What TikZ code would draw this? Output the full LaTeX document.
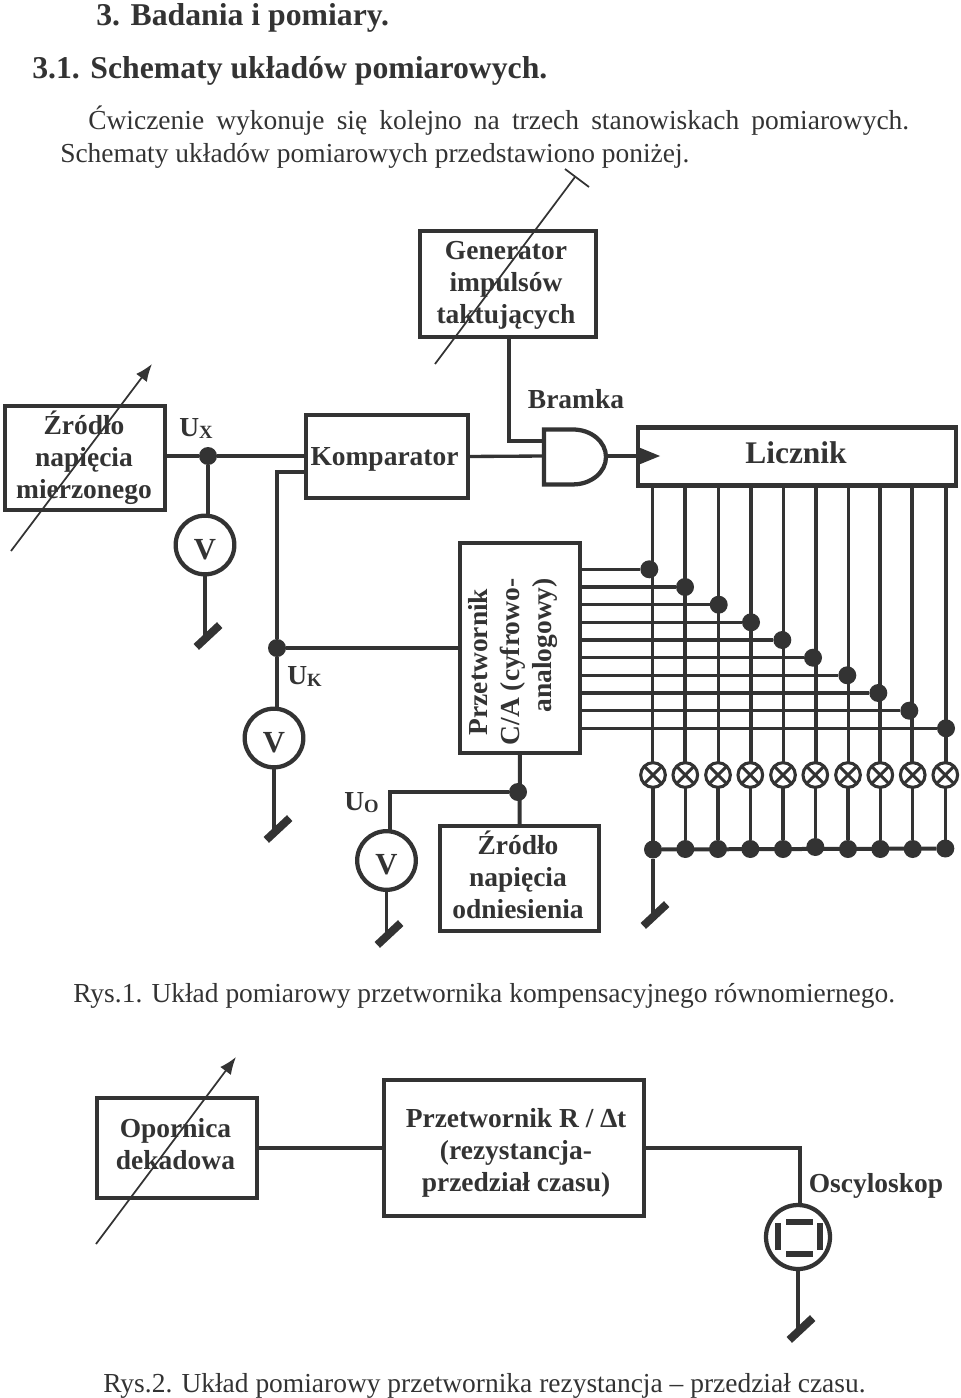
\documentclass[tikz,border=0pt]{standalone}
\usepackage{fontspec}
\setmainfont{Liberation Serif}
\usetikzlibrary{arrows.meta}
\definecolor{ink}{HTML}{333333}
\tikzset{%
	box/.style={draw=ink, rectangle, line width=3.2pt, inner sep=0mm, outer sep=0pt},
	wire/.style={draw=ink, line width=2.5pt},
	thin arrow/.style={draw=ink, line width=1.3pt, -{Latex[length=13pt,width=10pt]}},
	dot/.style={circle, fill=ink, minimum size=13.5pt, inner sep=0pt, outer sep=0pt},
	meter/.style={circle, draw=ink, line width=3.2pt, fill=white, minimum size=44pt, inner sep=0pt, outer sep=0pt,%
		font=\fontsize{23}{24}\selectfont\bfseries, text=ink},
	lamp/.style={circle, draw=ink, line width=2.3pt, fill=white, minimum size=18.5pt, inner sep=0pt, outer sep=0pt},
	gnd/.style={rectangle, fill=ink, minimum width=24pt, minimum height=6pt, inner sep=0pt, outer sep=0pt, rotate=43},
	plate/.style={rectangle, fill=ink, inner sep=0pt, outer sep=0pt},
	lbl/.style={text=ink, inner sep=0pt, font=\fontsize{20.6}{24}\selectfont\bfseries, align=center},
	txt/.style={text=ink, inner sep=0pt, anchor=base west, font=\fontsize{20.6}{24}\selectfont},
	head/.style={txt, font=\fontsize{23.8}{24}\selectfont\bfseries}
}
\newcommand{\sub}[1]{\raisebox{-0.2ex}{\fontsize{14}{14}\selectfont #1}}
\newcommand{\vlet}{\raisebox{-10.5pt}[0pt][0pt]{V}}
\begin{document}
\begin{tikzpicture}[x=0.75pt, y=-0.75pt]
	\useasboundingbox (0,0) rectangle (960,1398);

	% text
	\node[head] (head1) at (96,26) {3. Badania i pomiary.};
	\node[head] (head2) at (32,79) {3.1. Schematy układów pomiarowych.};
	\node[txt] (par1) at (88,130) {\spaceskip=9.1pt Ćwiczenie wykonuje się kolejno na trzech stanowiskach pomiarowych.};
	\node[txt] (par2) at (60,163) {Schematy układów pomiarowych przedstawiono poniżej.};
	\node[txt] (rys1) at (73,1002) {Rys.1. Układ pomiarowy przetwornika kompensacyjnego równomiernego.};
	\node[txt] (rys2) at (103,1392) {Rys.2. Układ pomiarowy przetwornika rezystancja – przedział czasu.};

	% boxes
	\node[box, minimum width=132pt, minimum height=79pt] (gen) at (508,284) {};
	\node[box, minimum width=120pt, minimum height=78pt] (zrodlo) at (85,458) {};
	\node[box, minimum width=121.5pt, minimum height=62pt] (komp) at (387,456.5) {};
	\node[box, minimum width=238.5pt, minimum height=43.5pt] (licz) at (797,456.5) {};
	\node[box, minimum width=90pt, minimum height=157.5pt] (conv) at (520,648) {};
	\node[box, minimum width=119pt, minimum height=79pt] (ref) at (519.5,878.5) {};
	\node[box, minimum width=120pt, minimum height=75pt] (opor) at (177,1148) {};
	\node[box, minimum width=195pt, minimum height=102pt] (rt) at (514,1148) {};

	% labels
	\node[lbl] (gentxt) at (506,285) {Generator\\impulsów\\taktujących};
	\node[lbl] (zrodlotxt) at (84,458) {Źródło\\napięcia\\mierzonego};
	\node[lbl] (komptxt) at (384.5,459) {Komparator};
	\node[lbl, font=\fontsize{23.6}{24}\selectfont\bfseries] (licztxt) at (796,453) {Licznik};
	\node[lbl, rotate=90] (convtxt) at (513,662) {Przetwornik\\C/A (cyfrowo-\\\hspace*{25pt}analogowy)};
	\node[lbl] (reftxt) at (518,875) {Źródło\\napięcia\\odniesienia};
	\node[lbl] (oportxt) at (175.5,1144) {Opornica\\dekadowa};
	\node[lbl] (rttxt) at (516,1153) {Przetwornik R / ∆t\\(rezystancja-\\przedział czasu)};
	\node[lbl] (bram) at (576,399) {Bramka};
	\node[lbl, anchor=base west] (ux) at (179,436) {U\sub{X}};
	\node[lbl, anchor=base west] (uk) at (287,684) {U\sub{K}};
	\node[lbl, anchor=base west] (uo) at (344,810) {U\sub{O}};
	\node[lbl] (osc) at (876,1186) {Oscyloskop};

	% and gate
	\draw[ink, line width=3.2pt] (544,429.5) coordinate (g1) -- (573,429.5)
		arc[start angle=90, end angle=-90, x radius=24.75pt, y radius=20.6pt] -- (544,484.5) -- cycle;
	\coordinate (gin1) at (544,441);
	\coordinate (gin2) at (544,456);
	\coordinate (gout) at (606,456);
	\coordinate (gtop) at (509,441);
	\path[fill=ink] (638,447) -- (660,456) -- (638,465) -- cycle;

	% meters
	\node[meter] (v1) at (205,545) {\vlet};
	\node[meter] (v2) at (274,738) {\vlet};
	\node[meter] (v3) at (386.5,860.5) {\vlet};
	\node[dot] (jx) at (208,456) {};
	\node[dot] (jk) at (277,648) {};
	\node[dot] (jo) at (518,792) {};
	\coordinate (ucorner) at (390,792);
	\coordinate (kcorner) at (277,472);
	\node[gnd] (g1g) at (208,636) {};
	\node[gnd] (g2g) at (278,829) {};
	\node[gnd] (g3g) at (389,934) {};
	\node[gnd] (g4g) at (655,915) {};
	\node[gnd] (g5g) at (801,1329) {};

	\draw[wire] (zrodlo.east |- jx) -- (jx) -- (jx -| komp.west);
	\draw[wire] (jx) -- (jx |- v1.north);
	\draw[wire] (v1.south) -- (v1.south |- g1g);
	\draw[wire] (komp.west |- kcorner) -- (kcorner) -- (jk) -- (jk |- v2.north);
	\draw[wire] (jk) -- (jk -| conv.west);
	\draw[wire] (v2.south) -- (v2.south |- g2g);
	\draw[wire] (jo) -- (ucorner) -- (ucorner |- v3.north);
	\draw[wire] (v3.south) -- (v3.south |- g3g);
	\draw[line width=3pt, ink] (conv.south) -- (ref.north);
	\draw[wire] (komp.east) -- (gin2);
	\draw[wire] (gen.south -| gtop) -- (gtop) -- (gin1);
	\draw[wire] (gout) -- (licz.west |- gout);

	% digit lines
	\foreach \i/\cx/\dx/\dy/\lx/\by in {%
		1/652.3/649.3/569.3/653/849.5, 2/685/685/587/685.3/849, 3/718.7/718.7/604.7/718/849,
		4/751/751/622.3/750.3/849, 5/783.7/782.3/640/783/849, 6/816/813/657.7/815.3/847,
		7/848.7/847.3/675.3/848/849, 8/880/878.3/693/880.3/849, 9/912/909.3/710.7/912.7/849,
		10/946/946/728.3/945.3/848.5} {
		\coordinate (top\i) at (\cx,486);
		\node[lamp] (l\i) at (\lx,775) {};
		\node[dot] (d\i) at (\dx,\dy) {};
		\node[dot] (b\i) at (\lx,\by) {};
		\draw[wire] (top\i) -- (top\i |- l\i.north);
		\draw[wire] (l\i) -- (b\i);
		\draw[wire, line width=2.3pt] (l\i.north west) -- (l\i.south east);
		\draw[wire, line width=2.3pt] (l\i.north east) -- (l\i.south west);
		\draw[wire] (d\i -| conv.east) -- (d\i);
	}
	\draw[line width=3pt, ink] (b1) -- (b10);
	\draw[wire] (b1) -- (b1 |- g4g);

	% second circuit
	\draw[wire] (opor.east) -- (rt.west);
	\node[meter, minimum size=48pt] (scope) at (798,1237) {};
	\coordinate (scorner) at (800,1148);
	\draw[wire] (rt.east) -- (scorner) -- (scorner |- scope.north);
	\draw[wire] (scope.south) -- (scope.south |- g5g);
	\node[plate, minimum width=20.5pt, minimum height=4.5pt] (pt) at (799.5,1222) {};
	\node[plate, minimum width=20.5pt, minimum height=4.5pt] (pb) at (799.5,1253.5) {};
	\node[plate, minimum width=4.5pt, minimum height=20.5pt] (pl) at (778,1236.5) {};
	\node[plate, minimum width=4.5pt, minimum height=20.5pt] (pr) at (819.5,1236.5) {};

	% variable arrows
	\coordinate (a1s) at (435,364);
	\coordinate (a1e) at (575,177);
	\coordinate (a1l) at (565,169);
	\coordinate (a1r) at (589,187);
	\draw[ink, line width=1.3pt] (a1s) -- (a1e);
	\draw[ink, line width=1.3pt] (a1l) -- (a1r);
	\coordinate (a2s) at (11,551);
	\coordinate (a2e) at (152,364);
	\draw[thin arrow] (a2s) -- (a2e);
	\coordinate (a3s) at (96,1244);
	\coordinate (a3e) at (236,1057);
	\draw[thin arrow] (a3s) -- (a3e);
\end{tikzpicture}
\end{document}
